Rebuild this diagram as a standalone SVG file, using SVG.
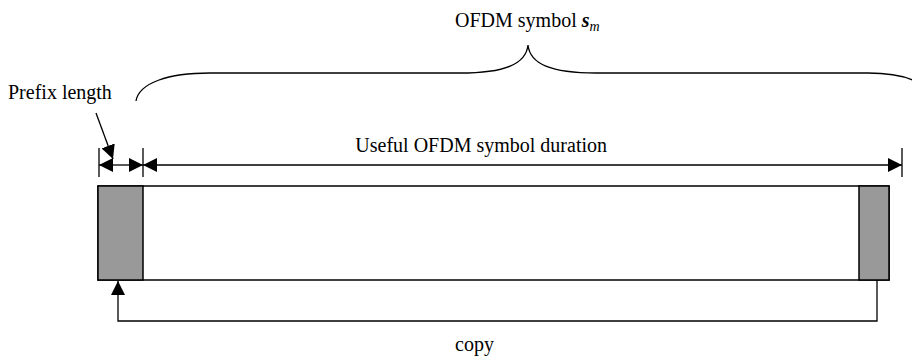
<svg xmlns="http://www.w3.org/2000/svg" width="912" height="356" viewBox="0 0 912 356">
<defs>
<marker id="ah" viewBox="0 0 10 10" refX="10" refY="5" markerWidth="14" markerHeight="14" markerUnits="userSpaceOnUse" orient="auto">
<path d="M0,0 L10,5 L0,10 Z" fill="#000"/>
</marker>
<style>
.t{font-family:"Liberation Serif","Times New Roman",serif;font-size:20px;fill:#000}
.ln{stroke:#000;stroke-width:1.3;fill:none}
.gr{fill:#999;stroke:#000;stroke-width:1.5}
</style>
</defs>
<rect width="912" height="356" fill="#fff"/>
<g id="symbol">
<rect x="98" y="186" width="791" height="94" fill="#fff" stroke="#000" stroke-width="1.5"/>
</g>
<g id="prefix-left"><rect class="gr" x="98" y="186" width="45" height="94"/></g>
<g id="prefix-right"><rect class="gr" x="859" y="186" width="30" height="94"/></g>
<g id="labels">
<text class="t" x="8" y="99">Prefix length</text>
<text class="t" x="455" y="27">OFDM symbol <tspan font-weight="bold" font-style="italic">s</tspan><tspan font-style="italic" font-size="14" dy="4">m</tspan></text>
<text class="t" x="607" y="152" text-anchor="end">Useful OFDM symbol duration</text>
<text class="t" x="455" y="351">copy</text>
</g>
<g id="connectors">
<path class="ln" d="M136,101 C139,83 168,73 210,73 L460,73 C505,73 526,64 528,45 C530,64 551,73 596,73 L868,73 C905,73 928,83 936,101"/>
<line class="ln" x1="99" y1="148" x2="99" y2="177"/>
<line class="ln" x1="143" y1="148" x2="143" y2="177"/>
<line class="ln" x1="902" y1="148" x2="902" y2="177"/>
<line class="ln" x1="121" y1="165" x2="99" y2="165" marker-end="url(#ah)"/>
<line class="ln" x1="121" y1="165" x2="143" y2="165" marker-end="url(#ah)"/>
<line class="ln" x1="520" y1="165" x2="143" y2="165" marker-end="url(#ah)"/>
<line class="ln" x1="520" y1="165" x2="902" y2="165" marker-end="url(#ah)"/>
<line class="ln" x1="96" y1="113" x2="113" y2="159" marker-end="url(#ah)"/>
<polyline class="ln" points="877,280 877,321 118,321 118,281" marker-end="url(#ah)"/>
</g>
</svg>
